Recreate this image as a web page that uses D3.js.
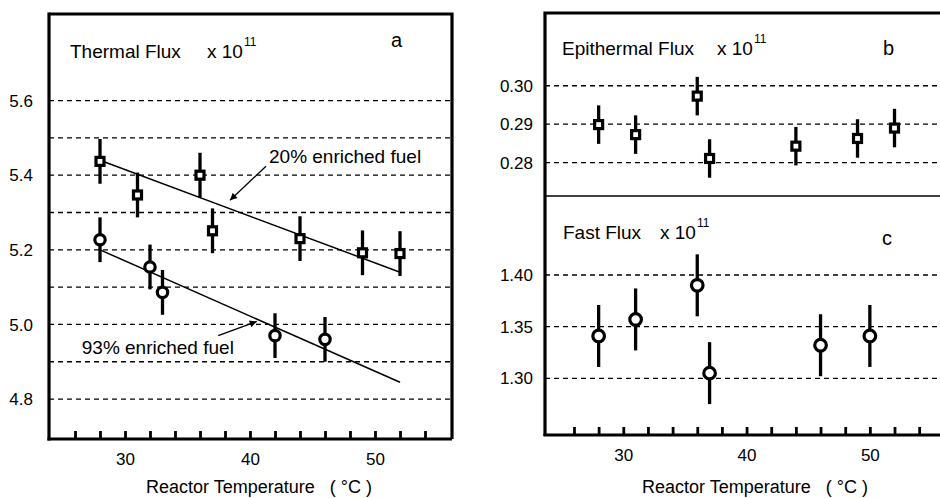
<!DOCTYPE html>
<html lang="en">
<head>
<meta charset="utf-8">
<script src="https://d3js.org/d3.v7.min.js"></script>
<style>
body { margin: 0; background: #fff; }
svg text { font-family: "Liberation Sans", Arial, sans-serif; fill: #000; }
.grid line { stroke: #000; stroke-width: 1.3; stroke-dasharray: 5,4; }
</style>
</head>
<body>
<script>

// Panel a: thermal flux (x 10^11)
var temp20 = [28, 31, 36, 37, 44, 49, 52];
var flux20 = [5.437, 5.347, 5.400, 5.251, 5.230, 5.192, 5.190];
var temp93 = [28, 32, 33, 42, 46];
var flux93 = [5.227, 5.154, 5.086, 4.970, 4.960];
var errThermal = 0.06;
var fit20 = [[28, 5.44], [52, 5.14]];
var fit93 = [[28, 5.20], [52, 4.845]];
var thermalTicks = [4.8, 5.0, 5.2, 5.4, 5.6];
var thermalGrid = [4.8, 4.9, 5.0, 5.1, 5.2, 5.3, 5.4, 5.5, 5.6];

// Panel b: epithermal flux
var tempEpi = [28, 31, 36, 37, 44, 49, 52];
var fluxEpi = [0.2899, 0.2873, 0.2973, 0.2811, 0.2843, 0.2863, 0.2890];
var errEpi = 0.005;
var epiTicks = [0.28, 0.29, 0.30];

// Panel c: fast flux
var tempFast = [28, 31, 36, 37, 46, 50];
var fluxFast = [1.341, 1.357, 1.390, 1.305, 1.332, 1.341];
var errFast = 0.03;
var fastTicks = [1.30, 1.35, 1.40];

var xTicks = d3.range(26, 55, 2);

var width = 940, height = 498;

var svg = d3.select("body").append("svg")
    .attr("width", width)
    .attr("height", height);

// scales
var xA = d3.scaleLinear().domain([23.92, 56.16]).range([49, 452]);
var yA = d3.scaleLinear().domain([4.693, 5.832]).range([439, 14]);

var xR = d3.scaleLinear().domain([23.65, 55.69]).range([545, 940]);
var yB = d3.scaleLinear().domain([0.27135, 0.3189]).range([196, 13]);
var yC = d3.scaleLinear().domain([1.2451, 1.4765]).range([435, 196]);

function grid(g, x, y, vals) {
  g.append("g").attr("class", "grid")
    .selectAll("line").data(vals).enter().append("line")
    .attr("x1", x.range()[0]).attr("x2", x.range()[1])
    .attr("y1", function(d) { return y(d); })
    .attr("y2", function(d) { return y(d); });
}

function yLabels(x, y, vals, fmt, pad) {
  svg.append("g").selectAll("text").data(vals).enter().append("text")
    .attr("x", x.range()[0] - pad)
    .attr("y", function(d) { return y(d); })
    .attr("dy", "0.36em")
    .attr("text-anchor", "end")
    .style("font-size", "17px")
    .text(function(d) { return d3.format(fmt)(d); });
}

function xAxis(x, y0) {
  var ax = svg.append("g")
    .attr("transform", "translate(0," + y0 + ")")
    .call(d3.axisBottom(x).tickValues(xTicks).tickSize(-8).tickPadding(14)
      .tickFormat(function(d) { return d % 10 === 0 ? d : ""; }));
  ax.select(".domain").remove();
  ax.selectAll(".tick line").attr("stroke", "#000").attr("stroke-width", 2.8);
  ax.selectAll(".tick text").style("font-size", "17px").attr("font-family", null);
  svg.append("line")
    .attr("x1", x.range()[0] - 1.5).attr("x2", x.range()[1])
    .attr("y1", y0).attr("y2", y0)
    .attr("stroke", "#000").attr("stroke-width", 3.2);
}

function errBars(x, y, xs, ys, e) {
  svg.append("g").selectAll("line").data(xs).enter().append("line")
    .attr("x1", function(d) { return x(d); })
    .attr("x2", function(d) { return x(d); })
    .attr("y1", function(d, i) { return y(ys[i] - e); })
    .attr("y2", function(d, i) { return y(ys[i] + e); })
    .attr("stroke", "#000").attr("stroke-width", 3.3);
}

function squares(x, y, xs, ys) {
  svg.append("g").selectAll("rect").data(xs).enter().append("rect")
    .attr("x", function(d) { return x(d) - 4; })
    .attr("y", function(d, i) { return y(ys[i]) - 4; })
    .attr("width", 8).attr("height", 8)
    .attr("fill", "#fff").attr("stroke", "#000").attr("stroke-width", 3.2);
}

function circles(x, y, xs, ys, r) {
  svg.append("g").selectAll("circle").data(xs).enter().append("circle")
    .attr("cx", function(d) { return x(d); })
    .attr("cy", function(d, i) { return y(ys[i]); })
    .attr("r", r)
    .attr("fill", "#fff").attr("stroke", "#000").attr("stroke-width", 3.2);
}

function title(x0, y0, name, xPos) {
  var t = svg.append("text").attr("x", x0).attr("y", y0).style("font-size", "19px");
  t.append("tspan").text(name);
  t.append("tspan").attr("x", xPos).text("x 10");
  t.append("tspan").attr("dx", 1).attr("dy", -12).style("font-size", "12px").text("11");
}

// ---------- panel a ----------
grid(svg, xA, yA, thermalGrid);
yLabels(xA, yA, thermalTicks, ".1f", 16);
xAxis(xA, 439);

svg.append("path")
  .attr("d", "M49,14H452V439")
  .attr("fill", "none").attr("stroke", "#000").attr("stroke-width", 3.2);
svg.append("line")
  .attr("x1", 49).attr("x2", 49).attr("y1", 12.5).attr("y2", 440.5)
  .attr("stroke", "#000").attr("stroke-width", 3.2);

var line = d3.line().x(function(d) { return xA(d[0]); }).y(function(d) { return yA(d[1]); });
[fit20, fit93].forEach(function(f) {
  svg.append("path").attr("d", line(f))
    .attr("fill", "none").attr("stroke", "#000").attr("stroke-width", 1.5);
});

errBars(xA, yA, temp20, flux20, errThermal);
squares(xA, yA, temp20, flux20);
errBars(xA, yA, temp93, flux93, errThermal);
circles(xA, yA, temp93, flux93, 5.2);

// annotations
svg.append("defs").append("marker")
  .attr("id", "arr").attr("viewBox", "0 0 10 10")
  .attr("refX", 10).attr("refY", 5)
  .attr("markerWidth", 9).attr("markerHeight", 7)
  .attr("markerUnits", "userSpaceOnUse")
  .attr("orient", "auto")
  .append("path").attr("d", "M0,0L10,5L0,10z").attr("fill", "#000");

var notes = [
  {text: "20% enriched fuel", tx: 41.52, ty: 5.432, from: [41.28, 5.424], to: [38.4, 5.333]},
  {text: "93% enriched fuel", tx: 26.54, ty: 4.92, from: [37.46, 4.97], to: [40.54, 5.008]}
];
notes.forEach(function(n) {
  svg.append("text").attr("x", xA(n.tx)).attr("y", yA(n.ty))
    .style("font-size", "19px").text(n.text);
  svg.append("line")
    .attr("x1", xA(n.from[0])).attr("y1", yA(n.from[1]))
    .attr("x2", xA(n.to[0])).attr("y2", yA(n.to[1]))
    .attr("stroke", "#000").attr("stroke-width", 1.3)
    .attr("marker-end", "url(#arr)");
});

title(70, 58, "Thermal Flux", 207);
svg.append("text").attr("x", 391).attr("y", 47).style("font-size", "20px").text("a");

svg.append("text").attr("x", 259).attr("y", 493)
  .attr("text-anchor", "middle").style("font-size", "18px")
  .attr("xml:space", "preserve")
  .text("Reactor Temperature   ( \u00B0C )");

// ---------- panels b and c ----------
grid(svg, xR, yB, epiTicks);
grid(svg, xR, yC, fastTicks);
yLabels(xR, yB, epiTicks, ".2f", 12);
yLabels(xR, yC, fastTicks, ".2f", 12);
xAxis(xR, 435);

svg.append("path")
  .attr("d", "M940,13H545V436")
  .attr("fill", "none").attr("stroke", "#000").attr("stroke-width", 3.2);
svg.append("line")
  .attr("x1", 545).attr("x2", 940).attr("y1", 196).attr("y2", 196)
  .attr("stroke", "#000").attr("stroke-width", 1.6);

errBars(xR, yB, tempEpi, fluxEpi, errEpi);
squares(xR, yB, tempEpi, fluxEpi);
errBars(xR, yC, tempFast, fluxFast, errFast);
circles(xR, yC, tempFast, fluxFast, 5.8);

title(562, 55, "Epithermal Flux", 717);
title(563, 239, "Fast Flux", 660);
svg.append("text").attr("x", 883).attr("y", 55).style("font-size", "20px").text("b");
svg.append("text").attr("x", 882).attr("y", 245).style("font-size", "20px").text("c");

svg.append("text").attr("x", 755).attr("y", 493)
  .attr("text-anchor", "middle").style("font-size", "18px")
  .attr("xml:space", "preserve")
  .text("Reactor Temperature   ( \u00B0C )");

</script>
</body>
</html>
